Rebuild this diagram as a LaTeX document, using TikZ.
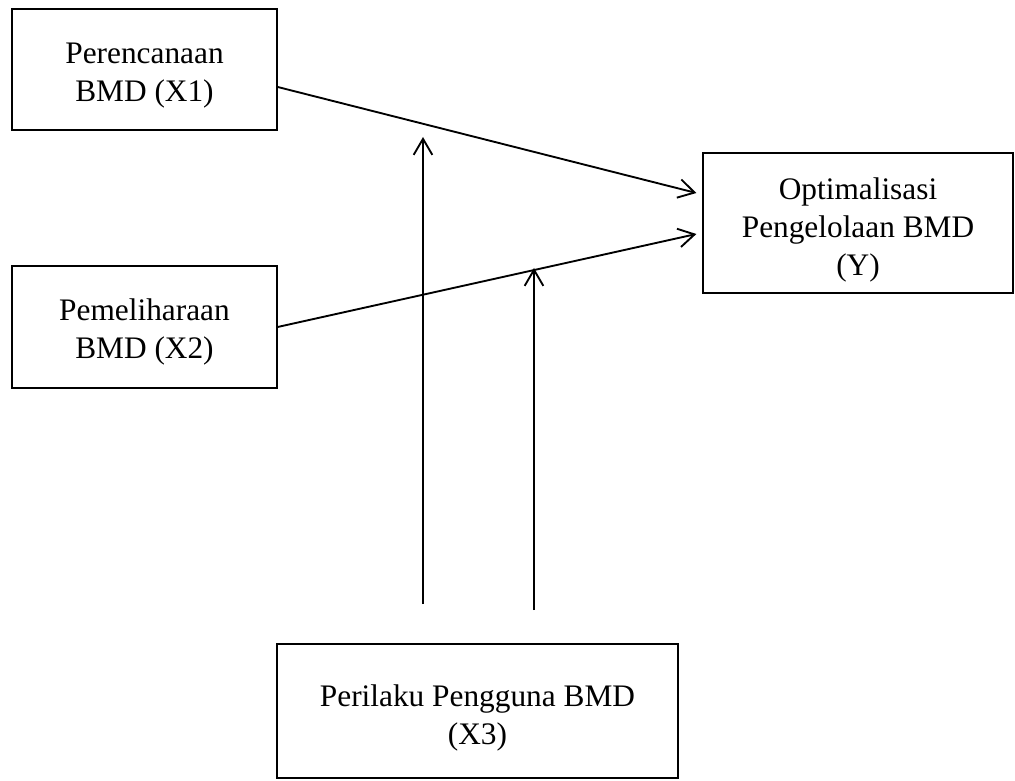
\documentclass[tikz,border=0pt]{standalone}
\usepackage{fontspec}
\setmainfont{Liberation Serif}
\usetikzlibrary{arrows.meta}

\begin{document}
\begin{tikzpicture}[x=0.75pt,y=-0.75pt,
    box/.style={draw,line width=0.9pt,inner sep=0pt},
    lbl/.style={align=center,inner sep=0pt,font=\fontsize{23.5}{28.5}\selectfont},
    link/.style={line width=1.4pt,-{Straight Barb[length=12pt,width=14pt,line width=1.4pt]}}]
        \useasboundingbox (0,0) rectangle (1015,781);
        % variables
        \node[box,minimum width=198.75pt,minimum height=90.75pt] (x1) at (144.5,69.5) {};
        \node[box,minimum width=198.75pt,minimum height=91.5pt] (x2) at (144.5,327) {};
        \node[box,minimum width=232.5pt,minimum height=105pt] (y) at (858,223) {};
        \node[box,minimum width=300.75pt,minimum height=100.5pt] (x3) at (477.5,711) {};
        \node[lbl] (x1text) at ([yshift=-4.4pt]x1.center) {Perencanaan\\BMD (X1)};
        \node[lbl] (x2text) at ([yshift=-3.5pt]x2.center) {Pemeliharaan\\BMD (X2)};
        \node[lbl] (ytext) at ([yshift=-5.2pt]y.center) {Optimalisasi\\Pengelolaan BMD\\(Y)};
        \node[lbl] (x3text) at ([yshift=-5.2pt]x3.center) {Perilaku Pengguna BMD\\(X3)};
        % moderating arrows
        \coordinate (m1) at (423,604);
        \coordinate (t1) at (423,137);
        \coordinate (m2) at (534,610);
        \coordinate (t2) at (534,268);
        \draw[link] ([yshift=-13.1pt]x1.east) -- ([xshift=-4.5pt,yshift=22.5pt]y.west);
        \draw[link] (x2.east) -- ([xshift=-4.5pt,yshift=-8.25pt]y.west);
        \draw[link] (m1) -- (t1);
        \draw[link] (m2) -- (t2);
\end{tikzpicture}
\end{document}
